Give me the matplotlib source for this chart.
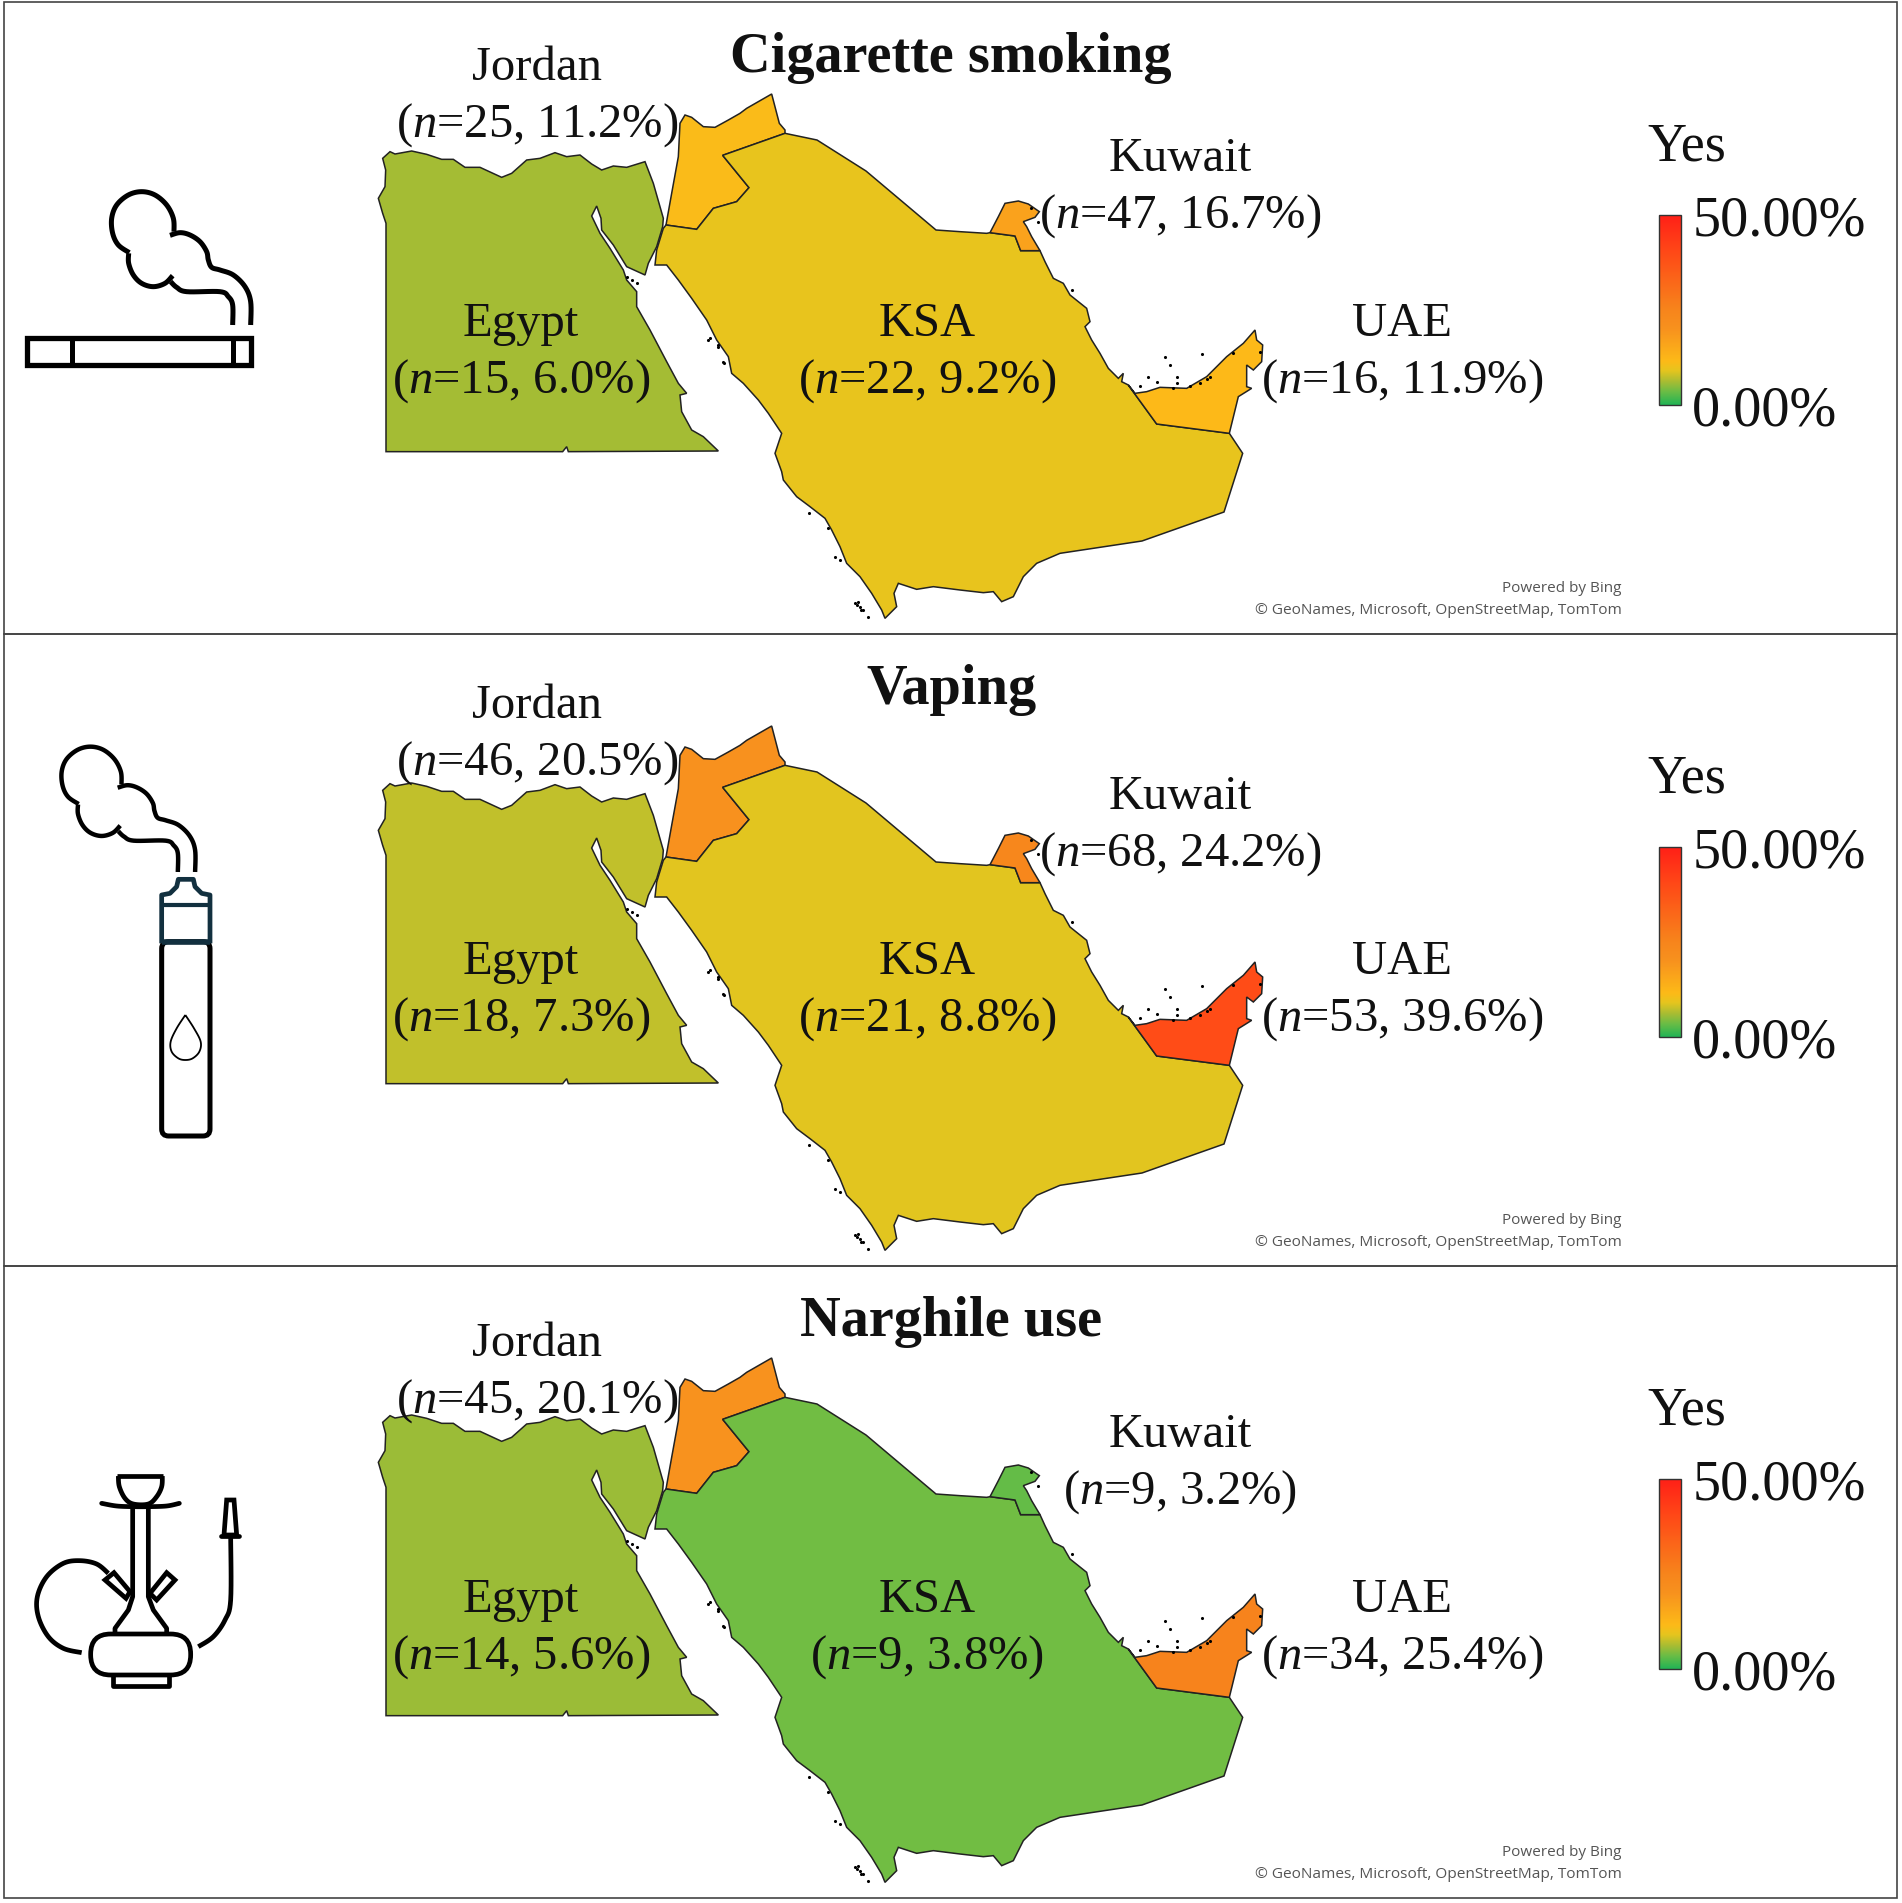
import numpy as np
import matplotlib
matplotlib.use("Agg")
import matplotlib.pyplot as plt
from matplotlib.colors import LinearSegmentedColormap
from matplotlib.patches import Polygon, Rectangle, FancyBboxPatch

plt.rcParams['font.family'] = ['Liberation Serif', 'DejaVu Serif']
plt.rcParams['mathtext.fontset'] = 'custom'
plt.rcParams['mathtext.it'] = 'Liberation Serif:italic'
plt.rcParams['mathtext.rm'] = 'Liberation Serif'

# data
titles = ["Cigarette smoking", "Vaping", "Narghile use"]
countries = ["Jordan", "Egypt", "KSA", "Kuwait", "UAE"]
counts = [[25, 15, 22, 47, 16],
          [46, 18, 21, 68, 53],
          [45, 14, 9, 9, 34]]
percents = [[11.2, 6.0, 9.2, 16.7, 11.9],
            [20.5, 7.3, 8.8, 24.2, 39.6],
            [20.1, 5.6, 3.8, 3.2, 25.4]]
legend_title = "Yes"
legend_ticks = ["50.00%", "0.00%"]
credit_1 = "Powered by Bing"
credit_2 = "\u00a9 GeoNames, Microsoft, OpenStreetMap, TomTom"

# colour scale of the legend
scale_max = 50.0
scale_stops = [(0, "#22B455"), (3.5, "#6CBD45"), (5.8, "#A2BC35"), (9, "#E6C51E"),
               (11.5, "#FDBA18"), (20, "#F8921E"), (25, "#F7851C"), (40, "#FF4A17"), (50, "#FF2018")]
cmap = LinearSegmentedColormap.from_list("yes", [(v / scale_max, c) for v, c in scale_stops])


def crop(ox, oy, pts):
    # outlines were traced on 3x crops of the map
    return [(ox + x / 3, oy + y / 3) for x, y in pts]


# country outlines (map geometry)
egypt = crop(370, 90, [(38,205),(60,185),(75,192),(125,183),(170,193),(215,208),(250,208),(285,232),(330,232),(395,262),
                       (425,250),(470,210),(510,205),(555,188),(590,200),(630,195),(665,222),(695,240),(730,228),(770,232),
                       (825,215),(850,280),(880,385),(878,410),(860,470),(835,520),(825,555),(770,530),(730,465),(695,420),
                       (693,385),(680,348),(665,378),(690,430),(720,475),(760,540),(770,570),(800,605),(800,650),(840,720),
                       (890,815),(925,880),(950,910),(930,915),(935,965),(965,1020),(1000,1040),(1045,1083),(595,1085),
                       (590,1070),(578,1085),(48,1085),(48,400),(38,370),(25,325),(45,290),(47,240)])
ksa = (crop(370, 90, [(855,525),(860,480),(880,415),(888,405),(980,418),(1030,355),(1100,335),(1137,293),(1058,196),(1245,130)])
       + [(817,140), (866,171), (936,230)]
       + crop(960, 180, [(0,155),(80,160),(90,158),(165,168),(182,212),(240,212),(255,245),(280,295),(310,310),(330,345),
                         (380,385),(390,425),(375,440),(395,480),(420,520),(445,565),(475,595),(490,580),(485,605),(505,615),
                         (590,732),(808,760),(848,820)])
       + [(1224,512), (1142,541)]
       + crop(640, 300, [(1260,760),(1190,790),(1150,830),(1120,890),(1085,905),(1060,875),(1030,878),(960,870),(880,860),
                         (830,868),(775,850),(762,880),(770,920),(735,955),(725,930),(695,880),(660,830),(620,790),(600,740),
                         (575,690),(555,655),(510,620),(470,590),(430,540),(425,515),(405,460)])
       + crop(370, 90, [(1235,1030),(1195,970),(1165,930),(1120,880),(1085,850),(1075,800),(1040,750),
                        (1010,690),(965,625),(925,570),(890,525)]))
jordan = crop(370, 90, [(930,100),(945,75),(965,82),(1000,110),(1035,112),(1075,90),(1110,70),(1130,55),(1205,12),(1228,100),
                        (1245,120),(1245,130),(1058,196),(1137,293),(1100,335),(1030,355),(980,418),(888,405),(905,310),(925,200)])
kuwait = crop(960, 180, [(90,158),(115,110),(135,70),(175,63),(205,72),(238,95),(225,112),(190,125),(200,140),(215,170),(240,212),(182,212),(165,168)])
uae = crop(960, 180, [(505,615),(525,640),(560,635),(600,622),(680,625),(740,590),(800,530),(850,490),(885,450),(890,480),
                      (908,495),(905,545),(880,570),(860,555),(860,620),(875,625),(835,650),(808,760),(590,732)])
outlines = {"Jordan": jordan, "Egypt": egypt, "KSA": ksa, "Kuwait": kuwait, "UAE": uae}
specks = (crop(960, 180, [(615,530),(630,555),(725,522),(565,590),(590,605),(650,590),(650,608),(540,618),(640,625),(690,618),
                          (720,608),(740,598),(750,590),(212,85),(235,125),(335,330),(820,520),(900,517)])
          + crop(640, 300, [(205,120),(235,135),(250,185),(508,640),(565,685),(585,770),(600,780),(645,910),(660,920),(655,905),
                            (670,930),(685,950),(650,915),(662,930)])
          + crop(370, 90, [(770,560),(785,570),(800,580),(1020,745),(1045,770),(1062,820)]))

label_pos = {"Jordan": (537, 68), "Egypt": (521, 324), "KSA": (927, 324), "Kuwait": (1180, 159), "UAE": (1402, 324)}

# icon strokes
smoke_a = [(752,525),(752,455),(735,410),(700,375),(660,360),(635,352),(625,330),(620,305),(600,275),(570,255),(540,248),(510,256)]
smoke_b = [(522,245),(520,205),(500,165),(465,135),(425,125),(385,135),(350,165),(335,205),(338,250),(355,285),(388,308)]
smoke_c = [(386,310),(386,340),(400,375),(425,400),(460,410),(495,400),(518,377)]
smoke_d = [(512,395),(530,412),(560,425),(660,425),(685,440),(698,465),(698,525)]


def smooth(pts, steps=8):
    # catmull-rom through the stroke points
    p = np.array(pts, dtype=float)
    p = np.vstack([p[0], p, p[-1]])
    out = []
    for i in range(1, len(p) - 2):
        for t in np.linspace(0, 1, steps, endpoint=False):
            out.append(0.5 * (2 * p[i] + (p[i + 1] - p[i - 1]) * t
                              + (2 * p[i - 1] - 5 * p[i] + 4 * p[i + 1] - p[i + 2]) * t ** 2
                              + (3 * p[i] - p[i - 1] - 3 * p[i + 1] + p[i + 2]) * t ** 3))
    out.append(p[-2])
    return np.array(out)


fig = plt.figure(figsize=(19.02, 19.03), dpi=100)
ax = fig.add_axes([0, 0, 1, 1])
ax.set_xlim(0, 1902)
ax.set_ylim(1903, 0)
ax.axis("off")


def map_xy(pts, dy):
    p = np.array(pts, dtype=float)
    return np.column_stack([p[:, 0], p[:, 1] + dy])


def stroke(pts, lw=3.6, color="black", curve=True, cap="butt"):
    p = smooth(pts) if curve else np.array(pts, dtype=float)
    ax.plot(p[:, 0], p[:, 1], color=color, lw=lw, solid_capstyle=cap, solid_joinstyle="round")


def icon_cigarette():
    xy = lambda pts: [(x / 3, 150 + y / 3) for x, y in pts]
    ax.add_patch(Rectangle((80 / 3, 150 + 565 / 3), 672 / 3, 80 / 3, fill=False, ec="black", lw=3.8))
    stroke(xy([(215,565),(215,645)]), curve=False)
    stroke(xy([(698,565),(698,645)]), curve=False)
    for s in (smoke_a, smoke_b, smoke_c, smoke_d):
        stroke(xy(s))


def icon_vape():
    xy = lambda pts: [(x / 3, 720 + y / 3) for x, y in pts]
    puff = lambda pts: [(185 + (x - 335) * 0.96, 80 + (y - 125) * 0.94) for x, y in pts]
    for s in (smoke_a, smoke_b, smoke_c, smoke_d):
        stroke(xy(puff(s)), lw=3.2)
    teal = "#12303f"
    ax.add_patch(FancyBboxPatch((485 / 3, 720 + 665 / 3), 145 / 3, 583 / 3, boxstyle="round,pad=0,rounding_size=7",
                                fill=False, ec="black", lw=3.6, mutation_aspect=1))
    stroke(xy([(485,670),(485,525),(510,520),(530,500),(535,478),(580,478),(585,500),(605,520),(630,525),(630,670)]),
           lw=3.4, color=teal, curve=False)
    stroke(xy([(485,555),(630,555)]), lw=3, color=teal, curve=False)
    stroke(xy([(485,665),(630,665)]), lw=4, color=teal, curve=False)
    stroke(xy([(556,885),(530,925),(512,965),(515,995),(535,1015),(556,1020),(578,1015),(598,995),(602,965),(582,925),(556,885)]),
           lw=1.3)


def icon_hookah():
    xy = lambda pts: [(x / 3, 1440 + y / 3) for x, y in pts]
    lw = 3.4
    stroke(xy([(350,108),(490,108)]), lw=lw, curve=False)
    stroke(xy([(355,108),(358,140),(375,175),(400,192),(445,192),(470,170),(485,140),(487,108)]), lw=lw)
    stroke(xy([(305,190),(350,198),(400,200),(445,200),(500,198),(538,190)]), lw=lw, cap="round")
    stroke(xy([(398,200),(398,470),(385,510),(345,565),(345,578)]), lw=lw, curve=False)
    stroke(xy([(445,200),(445,470),(460,510),(500,565),(500,578)]), lw=lw, curve=False)
    ax.add_patch(FancyBboxPatch((272 / 3, 1440 + 582 / 3), 300 / 3, 123 / 3, boxstyle="round,pad=0,rounding_size=20",
                                fill=False, ec="black", lw=lw))
    stroke(xy([(338,705),(338,738),(508,738),(508,705)]), lw=lw, curve=False)
    for port in ([(315,420),(342,398),(390,455),(378,475)], [(450,460),(500,398),(525,420),(470,480)]):
        ax.add_patch(Polygon(xy(port), closed=True, fill=False, ec="black", lw=lw))
    stroke(xy([(325,400),(290,372),(240,362),(190,370),(140,410),(112,470),(115,530),(145,590),(190,625),(245,638)]), lw=lw)
    stroke(xy([(595,620),(640,590),(675,540),(692,480),(692,290)]), lw=lw)
    stroke(xy([(662,288),(718,288)]), lw=lw, curve=False, cap="round")
    ax.add_patch(Polygon(xy([(680,180),(702,180),(710,285),(672,285)]), closed=True, fill=False, ec="black", lw=lw))


panel_h = 632
label_step = 638
for i, title in enumerate(titles):
    dy = panel_h * i
    ax.add_patch(Rectangle((4, 2 + dy), 1893, panel_h, fill=False, ec="#444444", lw=1.2))
    for name, n, pct in zip(countries, counts[i], percents[i]):
        face = cmap(pct / scale_max)
        ax.add_patch(Polygon(map_xy(outlines[name], dy), closed=True, fc=face, ec="#222222", lw=1.1, zorder=2))
    sp = map_xy(specks, dy)
    ax.scatter(sp[:, 0], sp[:, 1], s=5, c="black", lw=0, zorder=3)

    for name, n, pct in zip(countries, counts[i], percents[i]):
        x, y = label_pos[name]
        y = y + label_step * i
        ax.text(x, y, name, ha="center", va="center", fontsize=35, color="#111111", zorder=5)
        ax.text(x, y + 57, rf"($\mathit{{n}}$={n}, {pct:.1f}%)", ha="center", va="center",
                fontsize=35, color="#111111", zorder=5)

    ax.text(951, 58 + dy, title, ha="center", va="center", fontsize=40.5, fontweight="bold", color="#111111", zorder=5)

    ax.text(1622, 589 + dy, credit_1, ha="right", va="center", fontsize=11, family="Open Sans", color="#555555")
    ax.text(1622, 611 + dy, credit_2, ha="right", va="center", fontsize=11.1, family="Open Sans", color="#555555")

    # legend
    ax.text(1687, 147 + dy, legend_title, ha="center", va="center", fontsize=39, color="#111111")
    grad = np.linspace(1, 0, 256).reshape(-1, 1)
    ax.imshow(grad, cmap=cmap, vmin=0, vmax=1, extent=(1659, 1681, 405 + dy, 215 + dy), aspect="auto", zorder=2)
    ax.add_patch(Rectangle((1659, 215 + dy), 22, 190, fill=False, ec="#333333", lw=1.0, zorder=3))
    ax.text(1693, 222 + dy, legend_ticks[0], ha="left", va="center", fontsize=40.5, color="#111111")
    ax.text(1692, 412 + dy, legend_ticks[1], ha="left", va="center", fontsize=40.5, color="#111111")

icon_cigarette()
icon_vape()
icon_hookah()

ax.set_xlim(0, 1902)
ax.set_ylim(1903, 0)
fig.savefig("out.png", dpi=100, facecolor="white")
